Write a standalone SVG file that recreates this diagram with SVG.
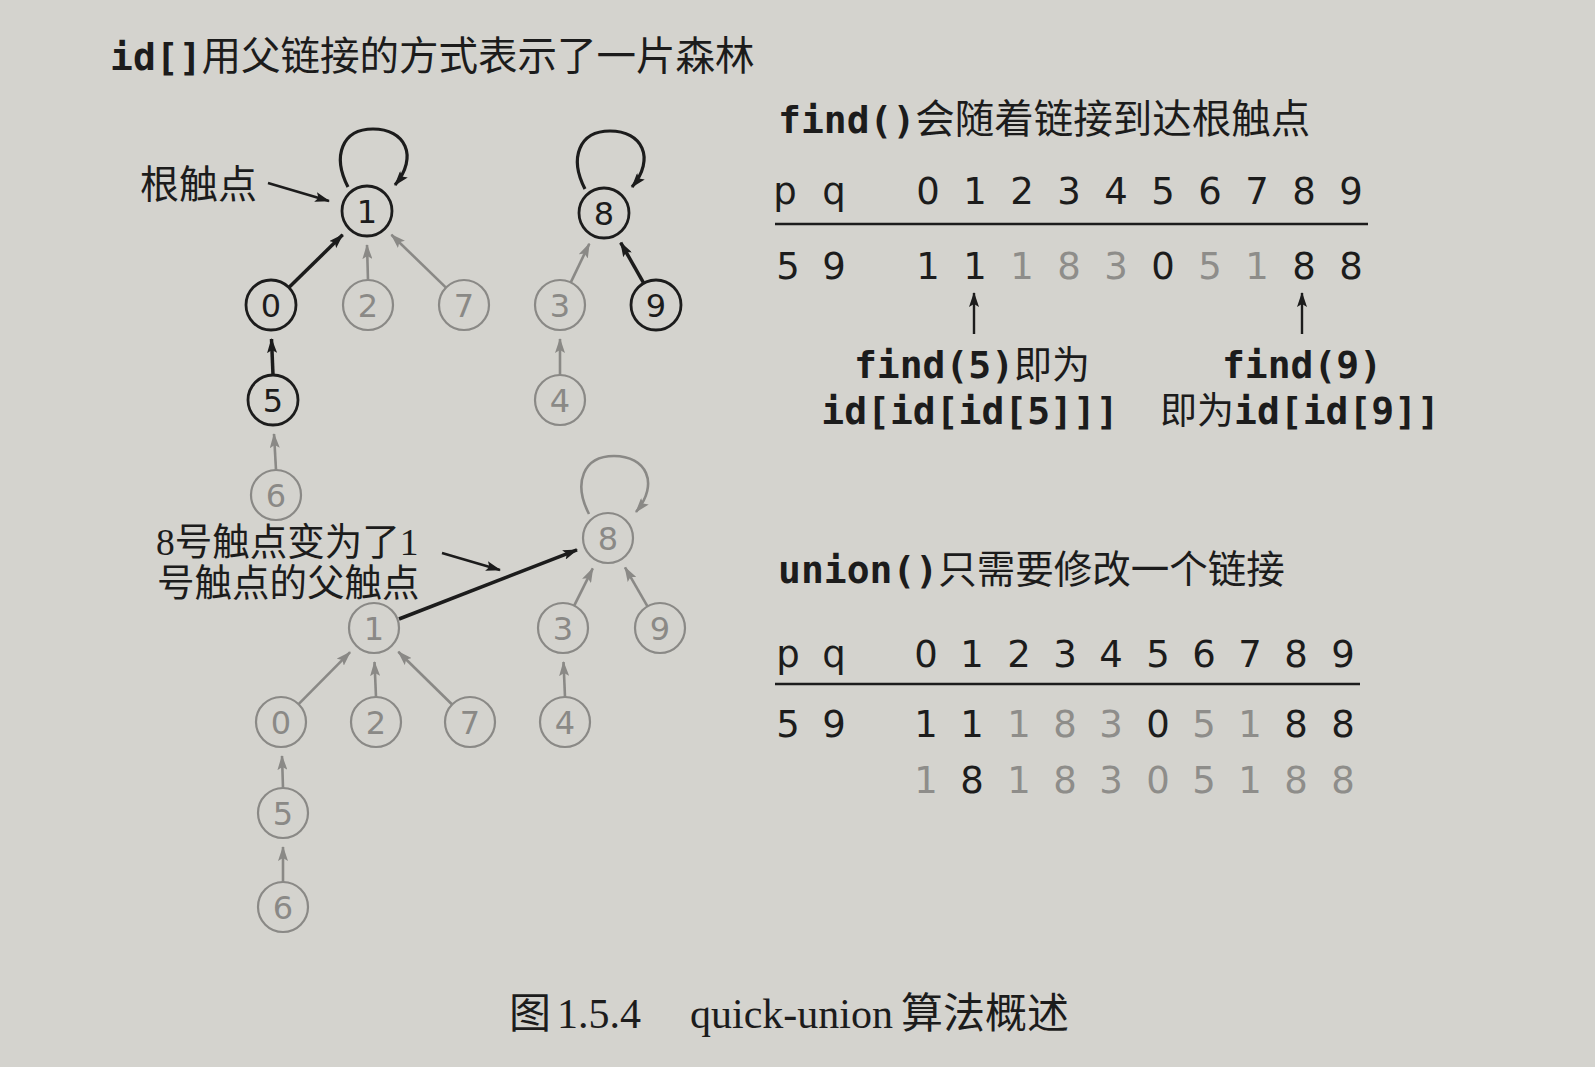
<svg xmlns="http://www.w3.org/2000/svg" width="1595" height="1067" viewBox="0 0 1595 1067">
<defs>
<style>
.bg{fill:#d4d3ce}
.cjk{font-family:"Noto Sans CJK SC","Noto Sans",sans-serif;fill:#1c1c1c}
.ser{font-family:"Liberation Serif","Noto Sans CJK SC",serif;fill:#1c1c1c}
.mb{font-family:"DejaVu Sans Mono","Liberation Mono",monospace;font-weight:bold;fill:#1c1c1c}
.tb{font-family:"DejaVu Sans","Liberation Sans",sans-serif;font-size:37px;fill:#1c1c1c;text-anchor:middle}
.g{fill:#8e8d8a}
.nk circle{fill:none;stroke:#1c1c1c;stroke-width:2.8}
.ng circle{fill:none;stroke:#8a8986;stroke-width:2.2}
.nk text,.ng text{font-family:"DejaVu Sans","Liberation Sans",sans-serif;font-size:32px;text-anchor:middle}
.nk text{fill:#1c1c1c}
.ng text{fill:#8a8986}
.ek{fill:none;stroke:#1c1c1c;stroke-width:3.5;marker-end:url(#ak)}
.eg{fill:none;stroke:#8a8986;stroke-width:2.6;marker-end:url(#ag)}
.et{fill:none;stroke:#1c1c1c;stroke-width:2.4;marker-end:url(#ak)}
.lk{fill:none;stroke:#1c1c1c;stroke-width:3.2;marker-end:url(#ak)}
.lg{fill:none;stroke:#8a8986;stroke-width:2.6;marker-end:url(#ag)}
.rule{stroke:#1c1c1c;stroke-width:2.6}
</style>
<marker id="ak" markerWidth="15" markerHeight="10" refX="14" refY="5" orient="auto" markerUnits="userSpaceOnUse"><path d="M0,0 L15,5 L0,10 L3,5 z" fill="#1c1c1c"/></marker>
<marker id="ag" markerWidth="15" markerHeight="10" refX="14" refY="5" orient="auto" markerUnits="userSpaceOnUse"><path d="M0,0 L15,5 L0,10 L3,5 z" fill="#8a8986"/></marker>
</defs>
<rect class="bg" x="0" y="0" width="1595" height="1067"/>

<!-- headings -->
<text x="110" y="70" font-size="38"><tspan class="mb">id[]</tspan><tspan class="cjk" font-size="39.5">用父链接的方式表示了一片森林</tspan></text>
<text x="778" y="133" font-size="38"><tspan class="mb">find()</tspan><tspan class="cjk" font-size="39.5">会随着链接到达根触点</tspan></text>
<text x="778" y="583" font-size="38"><tspan class="mb">union()</tspan><tspan class="cjk" font-size="38.5">只需要修改一个链接</tspan></text>
<text class="cjk" x="140" y="198" font-size="39">根触点</text>
<text class="ser" font-size="37.5"><tspan x="156" y="555">8号触点变为了1</tspan><tspan x="157" y="596">号触点的父触点</tspan></text>

<!-- connectors -->
<g id="connectors">
<path class="et" d="M268,183 L329,201"/>
<path class="lk" d="M348,187 C332,156 342,129 373,129 C405,129 419,156 395,185"/>
<path class="lk" d="M585,189 C569,158 579,131 610,131 C642,131 656,158 632,187"/>
<path class="ek" d="M288.9,287.5 L342.7,234.8"/>
<path class="eg" d="M368,280 L367,245"/>
<path class="eg" d="M446,287.6 L391.4,234.7"/>
<path class="ek" d="M273,375 L271.5,339"/>
<path class="eg" d="M276,470 L274,434"/>
<path class="eg" d="M570.8,282.4 L589.3,243.7"/>
<path class="ek" d="M643.7,283.2 L620.7,242.6"/>
<path class="eg" d="M560,375 L560,339"/>

<path class="lg" d="M589,514 C573,483 583,456 614,456 C646,456 660,483 636,512"/>
<path class="eg" d="M574.2,605.6 L592.8,568.4"/>
<path class="eg" d="M647.5,606.3 L625,567.4"/>
<path class="eg" d="M565,697 L563.5,662"/>
<path class="eg" d="M298.6,704.2 L350.1,652.2"/>
<path class="eg" d="M376,697 L374.5,662"/>
<path class="eg" d="M452.1,704.5 L398.3,651.8"/>
<path class="eg" d="M283,788 L282,756"/>
<path class="eg" d="M283,882 L283,847"/>
<path class="ek" d="M399,619 L577,549.8"/>
<path class="et" d="M442,553 L500,570"/>

<path class="et" d="M974,334 L974,293"/>
<path class="et" d="M1302,334 L1302,293"/>
</g>

<!-- top forest nodes -->
<g id="t1" class="nk"><circle cx="367" cy="211" r="25"/><text x="367" y="223">1</text></g>
<g id="t0" class="nk"><circle cx="271" cy="305" r="25"/><text x="271" y="317">0</text></g>
<g id="t2" class="ng"><circle cx="368" cy="305" r="25"/><text x="368" y="317">2</text></g>
<g id="t7" class="ng"><circle cx="464" cy="305" r="25"/><text x="464" y="317">7</text></g>
<g id="t5" class="nk"><circle cx="273" cy="400" r="25"/><text x="273" y="412">5</text></g>
<g id="t6" class="ng"><circle cx="276" cy="495" r="25"/><text x="276" y="507">6</text></g>
<g id="t8" class="nk"><circle cx="604" cy="213" r="25"/><text x="604" y="225">8</text></g>
<g id="t3" class="ng"><circle cx="560" cy="305" r="25"/><text x="560" y="317">3</text></g>
<g id="t9" class="nk"><circle cx="656" cy="305" r="25"/><text x="656" y="317">9</text></g>
<g id="t4" class="ng"><circle cx="560" cy="400" r="25"/><text x="560" y="412">4</text></g>

<!-- bottom forest nodes -->
<g id="b8" class="ng"><circle cx="608" cy="538" r="25"/><text x="608" y="550">8</text></g>
<g id="b3" class="ng"><circle cx="563" cy="628" r="25"/><text x="563" y="640">3</text></g>
<g id="b9" class="ng"><circle cx="660" cy="628" r="25"/><text x="660" y="640">9</text></g>
<g id="b4" class="ng"><circle cx="565" cy="722" r="25"/><text x="565" y="734">4</text></g>
<g id="b1" class="ng"><circle cx="374" cy="628" r="25"/><text x="374" y="640">1</text></g>
<g id="b0" class="ng"><circle cx="281" cy="722" r="25"/><text x="281" y="734">0</text></g>
<g id="b2" class="ng"><circle cx="376" cy="722" r="25"/><text x="376" y="734">2</text></g>
<g id="b7" class="ng"><circle cx="470" cy="722" r="25"/><text x="470" y="734">7</text></g>
<g id="b5" class="ng"><circle cx="283" cy="813" r="25"/><text x="283" y="825">5</text></g>
<g id="b6" class="ng"><circle cx="283" cy="907" r="25"/><text x="283" y="919">6</text></g>

<!-- table 1 -->
<g id="table1">
<text class="tb" y="204"><tspan x="785">p</tspan><tspan x="834">q</tspan><tspan x="928">0</tspan><tspan x="975">1</tspan><tspan x="1022">2</tspan><tspan x="1069">3</tspan><tspan x="1116">4</tspan><tspan x="1163">5</tspan><tspan x="1210">6</tspan><tspan x="1257">7</tspan><tspan x="1304">8</tspan><tspan x="1351">9</tspan></text>
<line class="rule" x1="775" y1="224" x2="1368" y2="224"/>
<text class="tb" y="279"><tspan x="788">5</tspan><tspan x="834">9</tspan><tspan x="928">1</tspan><tspan x="975">1</tspan><tspan x="1022" class="g">1</tspan><tspan x="1069" class="g">8</tspan><tspan x="1116" class="g">3</tspan><tspan x="1163">0</tspan><tspan x="1210" class="g">5</tspan><tspan x="1257" class="g">1</tspan><tspan x="1304">8</tspan><tspan x="1351">8</tspan></text>
<text x="972" y="378" font-size="38" text-anchor="middle"><tspan class="mb">find(5)</tspan><tspan class="cjk">即为</tspan></text>
<text class="mb" x="970" y="424" font-size="38" text-anchor="middle">id[id[id[5]]]</text>
<text class="mb" x="1302" y="378" font-size="38" text-anchor="middle">find(9)</text>
<text x="1300" y="424" font-size="38" text-anchor="middle"><tspan class="cjk" font-size="37">即为</tspan><tspan class="mb">id[id[9]]</tspan></text>
</g>

<!-- table 2 -->
<g id="table2">
<text class="tb" y="667"><tspan x="788">p</tspan><tspan x="834">q</tspan><tspan x="926">0</tspan><tspan x="972">1</tspan><tspan x="1019">2</tspan><tspan x="1065">3</tspan><tspan x="1111">4</tspan><tspan x="1158">5</tspan><tspan x="1204">6</tspan><tspan x="1250">7</tspan><tspan x="1296">8</tspan><tspan x="1343">9</tspan></text>
<line class="rule" x1="775" y1="684" x2="1360" y2="684"/>
<text class="tb" y="737"><tspan x="788">5</tspan><tspan x="834">9</tspan><tspan x="926">1</tspan><tspan x="972">1</tspan><tspan x="1019" class="g">1</tspan><tspan x="1065" class="g">8</tspan><tspan x="1111" class="g">3</tspan><tspan x="1158">0</tspan><tspan x="1204" class="g">5</tspan><tspan x="1250" class="g">1</tspan><tspan x="1296">8</tspan><tspan x="1343">8</tspan></text>
<text class="tb" y="793"><tspan x="926" class="g">1</tspan><tspan x="972">8</tspan><tspan x="1019" class="g">1</tspan><tspan x="1065" class="g">8</tspan><tspan x="1111" class="g">3</tspan><tspan x="1158" class="g">0</tspan><tspan x="1204" class="g">5</tspan><tspan x="1250" class="g">1</tspan><tspan x="1296" class="g">8</tspan><tspan x="1343" class="g">8</tspan></text>
</g>

<!-- caption -->
<text class="ser" x="509" y="1028" font-size="42">图</text>
<text class="ser" x="557" y="1028" font-size="42">1.5.4</text>
<text class="ser" x="690" y="1028" font-size="42">quick-union</text>
<text class="ser" x="901" y="1028" font-size="42">算法概述</text>
</svg>
